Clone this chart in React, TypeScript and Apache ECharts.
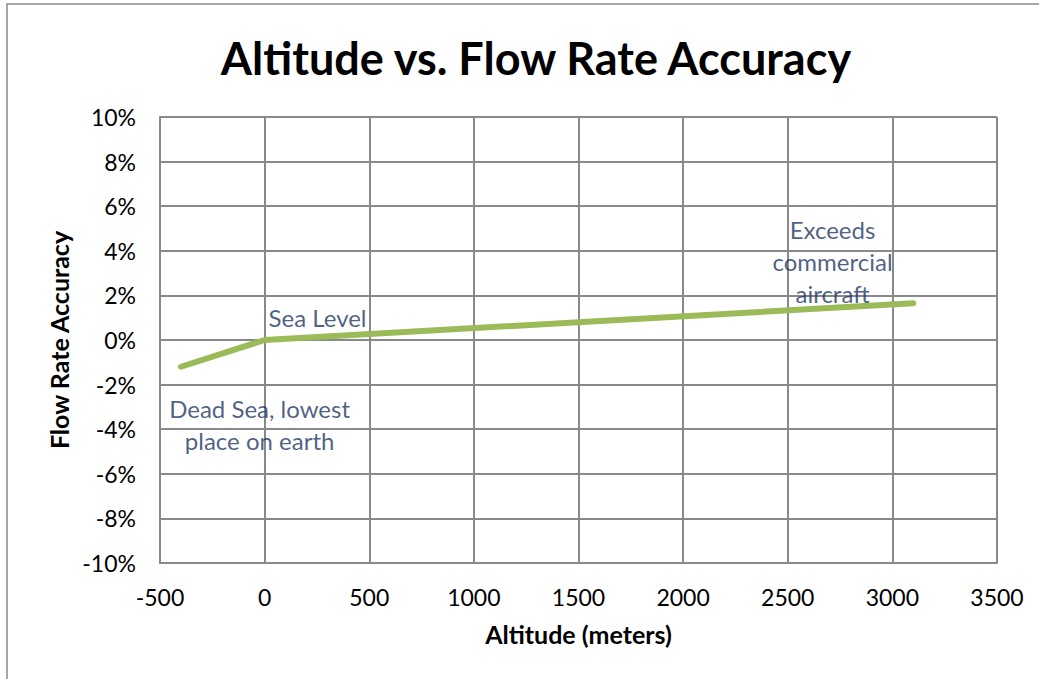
import React, { useEffect, useRef } from "react";
import * as echarts from "echarts";

const altitudes = [-400, 0, 3100];
const accuracy = [-1.2, 0, 1.65];

const xTicks = { min: -500, max: 3500, interval: 500 };
const yTicks = { min: -10, max: 10, interval: 2 };

const annoText = ["Sea Level", "Dead Sea, lowest\nplace on earth", "Exceeds\ncommercial\naircraft"];
const annoX = [253, -24, 2714];
const annoY = [1.03, -3.79, 3.5];

const FONT = "Lato, 'Open Sans', sans-serif";

export default function App() {
  const ref = useRef<HTMLDivElement>(null);
  useEffect(() => {
    if (!ref.current) return;
    const chart = echarts.init(ref.current, undefined, { renderer: "svg" });
    const gridColor = "#898989";
    chart.setOption({
      animation: false,
      backgroundColor: "#ffffff",
      title: {
        text: "Altitude vs. Flow Rate Accuracy",
        left: 531,
        top: 30,
        textAlign: "center",
        textStyle: { fontFamily: FONT, fontWeight: "bold", fontSize: 45, color: "#000" },
      },
      graphic: [
        {
          type: "rect",
          shape: { x: 7, y: 4, width: 1200, height: 900 },
          style: { fill: "none", stroke: "#8a8a8a", lineWidth: 1.5 },
          silent: true,
        },
      ],
      grid: { left: 160, right: 42, top: 117, bottom: 116, containLabel: false },
      xAxis: {
        type: "value",
        min: xTicks.min,
        max: xTicks.max,
        interval: xTicks.interval,
        name: "Altitude (meters)",
        nameLocation: "middle",
        nameGap: 58,
        nameTextStyle: { fontFamily: FONT, fontWeight: "bold", fontSize: 25, color: "#000", verticalAlign: "top" },
        axisLine: { show: true, onZero: false, lineStyle: { color: gridColor, width: 2 } },
        axisTick: { show: false },
        axisLabel: { fontFamily: FONT, fontSize: 23, color: "#000", margin: 22, formatter: (v: number) => String(v) },
        splitLine: { show: true, lineStyle: { color: gridColor, width: 2 } },
      },
      yAxis: {
        type: "value",
        min: yTicks.min,
        max: yTicks.max,
        interval: yTicks.interval,
        name: "Flow Rate Accuracy",
        nameLocation: "middle",
        nameGap: 88,
        nameTextStyle: { fontFamily: FONT, fontWeight: "bold", fontSize: 25, color: "#000" },
        axisLine: { show: true, onZero: false, lineStyle: { color: gridColor, width: 2 } },
        axisTick: { show: false },
        axisLabel: {
          fontFamily: FONT,
          fontSize: 23,
          color: "#000",
          margin: 24,
          formatter: (v: number) => `${v}%`,
        },
        splitLine: { show: true, lineStyle: { color: gridColor, width: 2 } },
      },
      series: [
        {
          type: "line",
          data: altitudes.map((a, i) => [a, accuracy[i]]),
          showSymbol: false,
          symbol: "none",
          lineStyle: { color: "#9BBB59", width: 6, cap: "round", join: "round" },
          z: 3,
        },
        {
          type: "scatter",
          data: annoX.map((x, i) => [x, annoY[i]]),
          symbolSize: 0,
          silent: true,
          z: 4,
          label: {
            show: true,
            position: "inside",
            formatter: (p: any) => annoText[p.dataIndex],
            fontFamily: FONT,
            fontSize: 24,
            lineHeight: 32,
            align: "center",
            verticalAlign: "middle",
            color: "#1F3864",
          },
        },
      ],
    });
    return () => chart.dispose();
  }, []);
  return (
    <div
      ref={ref}
      style={{ position: "fixed", left: 0, top: 0, width: 1039, height: 679 }}
    />
  );
}
